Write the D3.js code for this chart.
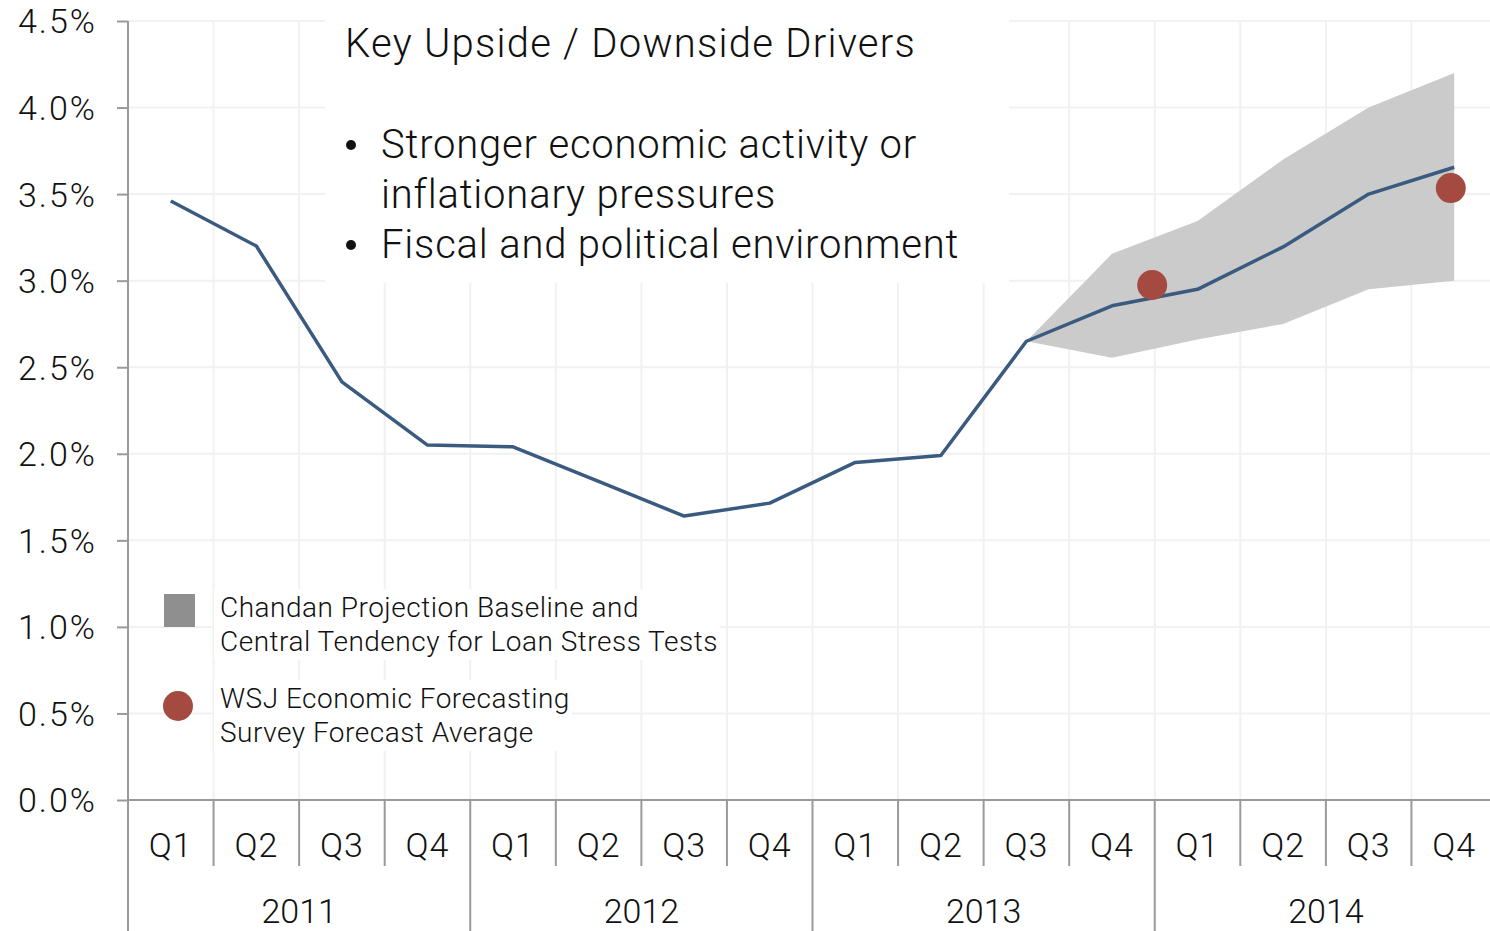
<!DOCTYPE html>
<html>
<head>
<meta charset="utf-8">
<script src="https://cdn.jsdelivr.net/npm/d3@7"></script>
<style>
  html, body { margin: 0; padding: 0; background: #ffffff; }
  svg { display: block; }
  text { font-family: "Roboto", "Helvetica Neue", sans-serif; font-weight: 300; fill: #111; }
</style>
</head>
<body>
<svg id="chart" width="1490" height="931"></svg>
<script>
// Quarterly axis categories
const years = ["2011", "2012", "2013", "2014"];
const quarterNames = ["Q1", "Q2", "Q3", "Q4"];

// Rate history and baseline projection, one value per quarter (percent)
const rateValues = [3.46, 3.20, 2.415, 2.05, 2.04, 1.84, 1.64, 1.715,
                    1.95, 1.99, 2.65, 2.855, 2.95, 3.195, 3.50, 3.655];

// Projection range, starting at 2013 Q3 (quarter index 10)
const bandStartIndex = 10;
const bandUpper = [2.65, 3.155, 3.345, 3.70, 4.00, 4.20];
const bandLower = [2.65, 2.555, 2.66, 2.75, 2.95, 3.00];

// WSJ survey averages: position in quarters from the start of 2011, value in percent
const wsjPositions = [11.97, 15.46];
const wsjValues = [2.975, 3.535];

// Y tick values (percent)
const yTicks = [0, 0.5, 1.0, 1.5, 2.0, 2.5, 3.0, 3.5, 4.0, 4.5];

// Annotation and legend texts
const noteTitle = "Key Upside / Downside Drivers";
const noteBullets = [
  ["Stronger economic activity or", "inflationary pressures"],
  ["Fiscal and political environment"]
];
const legendBand = ["Chandan Projection Baseline and", "Central Tendency for Loan Stress Tests"];
const legendDots = ["WSJ Economic Forecasting", "Survey Forecast Average"];

const quarterKeys = years.flatMap(yr => quarterNames.map(q => yr + " " + q));

const svg = d3.select("#chart");
const plotLeft = 128, plotRight = 1497, plotTop = 21, plotBottom = 800;

const xBand = d3.scaleBand().domain(quarterKeys).range([plotLeft, plotRight]);
const xPos = d3.scaleLinear().domain([0, quarterKeys.length]).range([plotLeft, plotRight]);
const y = d3.scaleLinear().domain([0, 4.5]).range([plotBottom, plotTop]);
const xMid = k => xBand(k) + xBand.bandwidth() / 2;

const gridColor = "#f1f1f1";
const axisColor = "#9a9a9a";

// Grid
const grid = svg.append("g");
grid.selectAll("line.h").data(yTicks.filter(d => d > 0)).join("line")
  .attr("x1", plotLeft).attr("x2", 1490)
  .attr("y1", d => y(d)).attr("y2", d => y(d))
  .attr("stroke", gridColor).attr("stroke-width", 2);
grid.selectAll("line.v").data(quarterKeys.slice(1)).join("line")
  .attr("x1", d => xBand(d)).attr("x2", d => xBand(d))
  .attr("y1", plotTop).attr("y2", plotBottom)
  .attr("stroke", gridColor).attr("stroke-width", 2);

// White panel behind the annotation
svg.append("rect").attr("x", 325).attr("y", 0).attr("width", 684).attr("height", 283).attr("fill", "#ffffff");

// Projection band
const bandData = bandUpper.map((u, i) => ({ i: bandStartIndex + i, u, l: bandLower[i] }));
svg.append("path").datum(bandData)
  .attr("fill", "#cbcbcb")
  .attr("d", d3.area()
    .x(d => xMid(quarterKeys[d.i]))
    .y0(d => y(d.l)).y1(d => y(d.u)));

// Rate line
svg.append("path").datum(rateValues)
  .attr("fill", "none").attr("stroke", "#3a5a80").attr("stroke-width", 3.5)
  .attr("stroke-linejoin", "round")
  .attr("d", d3.line()
    .x((d, i) => xMid(quarterKeys[i]))
    .y(d => y(d)));

// WSJ survey dots
svg.append("g").selectAll("circle").data(wsjValues).join("circle")
  .attr("cx", (d, i) => xPos(wsjPositions[i]))
  .attr("cy", d => y(d))
  .attr("r", 15)
  .attr("fill", "#a44a41");

// Y axis
const yAxis = svg.append("g").attr("transform", `translate(${plotLeft},0)`)
  .call(d3.axisLeft(y).tickValues(yTicks).tickSize(11).tickSizeOuter(0).tickPadding(22)
    .tickFormat(d => d.toFixed(1) + "%"));
yAxis.select(".domain").remove();
yAxis.selectAll(".tick line").attr("stroke", axisColor).attr("stroke-width", 2);
yAxis.selectAll(".tick text").attr("font-size", 34).attr("fill", "#111")
  .attr("letter-spacing", 2).attr("dx", 2)
  .attr("dy", "0.35em");
yAxis.attr("font-family", null).attr("font-size", null);
svg.append("line").attr("x1", plotLeft).attr("x2", plotLeft).attr("y1", plotTop).attr("y2", 931)
  .attr("stroke", axisColor).attr("stroke-width", 2);

// X axis: baseline, quarter dividers, year dividers
svg.append("line").attr("x1", plotLeft).attr("x2", 1490).attr("y1", plotBottom).attr("y2", plotBottom)
  .attr("stroke", axisColor).attr("stroke-width", 2);
const xg = svg.append("g");
xg.selectAll("line.q").data(quarterKeys.filter((d, i) => i % 4 !== 0)).join("line")
  .attr("x1", d => xBand(d)).attr("x2", d => xBand(d))
  .attr("y1", plotBottom).attr("y2", 866)
  .attr("stroke", axisColor).attr("stroke-width", 2);
xg.selectAll("line.yr").data(years.slice(1)).join("line")
  .attr("x1", d => xBand(d + " Q1")).attr("x2", d => xBand(d + " Q1"))
  .attr("y1", plotBottom).attr("y2", 931)
  .attr("stroke", axisColor).attr("stroke-width", 2);
xg.selectAll("text.q").data(quarterKeys).join("text")
  .attr("x", d => xMid(d))
  .attr("y", 857)
  .attr("text-anchor", "middle").attr("font-size", 34).attr("letter-spacing", 1)
  .text(d => d.split(" ")[1]);
xg.selectAll("text.yr").data(years).join("text")
  .attr("x", d => (xBand(d + " Q1") + xBand(d + " Q4") + xBand.bandwidth()) / 2)
  .attr("y", 923)
  .attr("text-anchor", "middle").attr("font-size", 34)
  .text(d => d);

// Annotation
const note = svg.append("g");
note.append("text").attr("x", 345).attr("y", 57).attr("font-size", 40)
  .attr("letter-spacing", 1.25).text(noteTitle);
let lineY = 158;
noteBullets.forEach(lines => {
  note.append("circle").attr("cx", 351).attr("cy", lineY - 13).attr("r", 5).attr("fill", "#111");
  lines.forEach(t => {
    note.append("text").attr("x", 381).attr("y", lineY).attr("font-size", 40)
      .attr("letter-spacing", 0.8).text(t);
    lineY += 50;
  });
});

// Legend
function legendLabel(lines, x0, baseline) {
  const g = svg.append("g");
  const bg = g.append("rect").attr("fill", "#ffffff");
  const t = g.append("text").attr("font-size", 28).attr("letter-spacing", 0.5);
  lines.forEach((s, i) => t.append("tspan").attr("x", x0).attr("y", baseline + i * 34).text(s));
  const bb = t.node().getBBox();
  bg.attr("x", x0 - 6).attr("y", bb.y - 2).attr("width", bb.width + 8).attr("height", bb.height + 4);
}
svg.append("rect").attr("x", 164).attr("y", 594).attr("width", 31).attr("height", 33).attr("fill", "#8f8f8f");
legendLabel(legendBand, 220, 617);
svg.append("circle").attr("cx", 178).attr("cy", 706).attr("r", 15).attr("fill", "#a44a41");
legendLabel(legendDots, 220, 708);
</script>
</body>
</html>
